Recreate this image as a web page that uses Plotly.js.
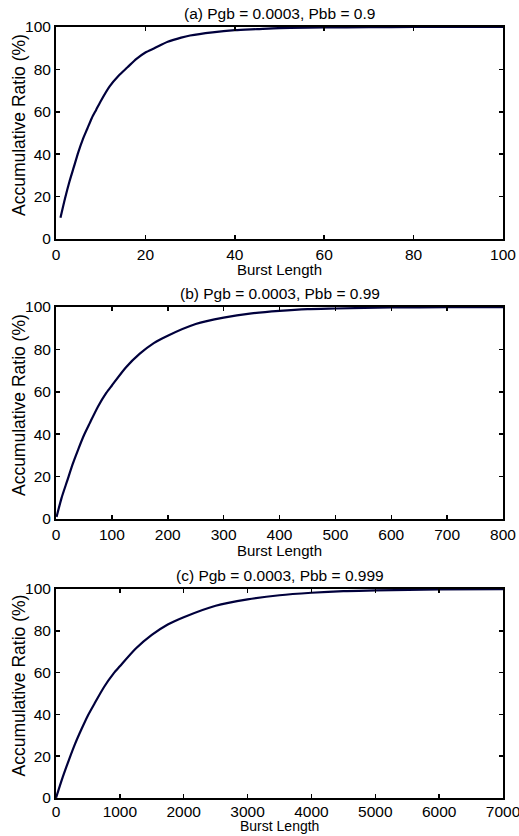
<!DOCTYPE html>
<html>
<head>
<meta charset="utf-8">
<script src="https://cdn.plot.ly/plotly-3.0.1.min.js"></script>
<style>html,body{margin:0;padding:0;background:#fff;}#chart{width:519px;height:836px;}</style>
</head>
<body>
<div id="chart"></div>
<script>
// Panel (a): Pbb = 0.9
const xA = [1,2,3,4,5,6,7,8,9,10,12,14,16,18,20,22,25,28,30,35,40,45,50,60,70,80,90,100];
const yA = [10,19,27,34,41,47,52,57,61,65,72,77,81,85,88,90,93,95,96,97.5,98.5,99,99.5,99.8,99.9,100,100,100];
// Panel (b): Pbb = 0.99
const xB = [1,10,20,30,40,50,60,75,90,100,125,150,175,200,250,300,350,400,450,500,600,700,800];
const yB = [1,10,18,26,33,39.5,45,53,59.5,63,71.5,78,83,86.5,92,95,97,98.2,99,99.3,99.8,99.9,100];
// Panel (c): Pbb = 0.999
const xC = [1,100,200,300,400,500,600,750,900,1000,1250,1500,1750,2000,2500,3000,3500,4000,4500,5000,6000,7000];
const yC = [0.1,9.5,18,26,33,39.5,45,53,59.5,63,71.5,78,83,86.5,92,95,97,98.2,99,99.3,99.8,99.9];

const titles = ["(a) Pgb = 0.0003, Pbb = 0.9", "(b) Pgb = 0.0003, Pbb = 0.99", "(c) Pgb = 0.0003, Pbb = 0.999"];
const xTicksA = [0,20,40,60,80,100];
const xTicksB = [0,100,200,300,400,500,600,700,800];
const xTicksC = [0,1000,2000,3000,4000,5000,6000,7000];
const yTicks = [0,20,40,60,80,100];
const xLabel = "Burst Length";
const yLabel = "Accumulative Ratio (%)";

const FONT = "'Liberation Sans', Arial, Helvetica, sans-serif";
const lineColor = "#00003c";
const domains = [[0.7261, 1], [0.3643, 0.6382], [0.0039, 0.2739]];
const xTicks = [xTicksA, xTicksB, xTicksC];
const xTitleShift = [-20, -21, -18];
const xTitleSize = [15, 15, 14];
const xTickStandoff = [0, 0, -2];

const xs = [xA, xB, xC], ys = [yA, yB, yC];
const data = xs.map((x, i) => ({
  x: x, y: ys[i], type: 'scatter', mode: 'lines',
  line: {color: lineColor, width: 2.2, shape: 'spline', smoothing: 0.7},
  xaxis: i === 0 ? 'x' : 'x' + (i + 1),
  yaxis: i === 0 ? 'y' : 'y' + (i + 1),
  hoverinfo: 'skip', showlegend: false
}));

const layout = {
  width: 519, height: 836,
  margin: {l: 56, r: 16, t: 27, b: 35},
  paper_bgcolor: '#fff', plot_bgcolor: '#fff',
  font: {family: FONT, size: 15, color: '#000'},
  showlegend: false,
  annotations: []
};

for (let i = 0; i < 3; i++) {
  const sx = i === 0 ? '' : String(i + 1);
  const xt = xTicks[i];
  layout['xaxis' + sx] = {
    domain: [0, 1], anchor: 'y' + sx,
    range: [0, xt[xt.length - 1]], tickvals: xt, ticktext: xt.map(String),
    ticks: 'inside', ticklen: 4, tickwidth: 1.5, tickcolor: '#000',
    ticklabeloverflow: 'allow', ticklabelstandoff: xTickStandoff[i],
    showline: true, linecolor: '#000', linewidth: 2, mirror: 'ticks',
    showgrid: false, zeroline: false,
    tickfont: {family: FONT, size: 15.5, color: '#000'},
    automargin: false, fixedrange: true
  };
  layout['yaxis' + sx] = {
    domain: domains[i], anchor: 'x' + sx,
    range: [0, 100], tickvals: yTicks,
    ticks: 'inside', ticklen: 4, tickwidth: 1.5, tickcolor: '#000',
    ticklabeloverflow: 'allow',
    showline: true, linecolor: '#000', linewidth: 2, mirror: 'ticks',
    showgrid: false, zeroline: false,
    tickfont: {family: FONT, size: 15.5, color: '#000'},
    automargin: false, fixedrange: true
  };
  // subplot title
  layout.annotations.push({
    text: titles[i], xref: 'paper', yref: 'paper',
    x: 0.5, y: domains[i][1], xanchor: 'center', yanchor: 'bottom',
    yshift: 3, showarrow: false,
    font: {family: FONT, size: 15.5, color: '#000'}
  });
  // x axis title
  layout.annotations.push({
    text: xLabel, xref: 'paper', yref: 'paper',
    x: 0.5, y: domains[i][0], xanchor: 'center', yanchor: 'top',
    yshift: xTitleShift[i], showarrow: false,
    font: {family: FONT, size: xTitleSize[i], color: '#000'}
  });
  // y axis title
  layout.annotations.push({
    text: yLabel, xref: 'paper', yref: 'paper', textangle: -90,
    x: 0, y: (domains[i][0] + domains[i][1]) / 2, xanchor: 'center', yanchor: 'middle',
    xshift: -37, yshift: 8, showarrow: false,
    font: {family: FONT, size: 17.5, color: '#000'}
  });
}

Plotly.newPlot('chart', data, layout, {staticPlot: true, displayModeBar: false});
</script>
</body>
</html>
